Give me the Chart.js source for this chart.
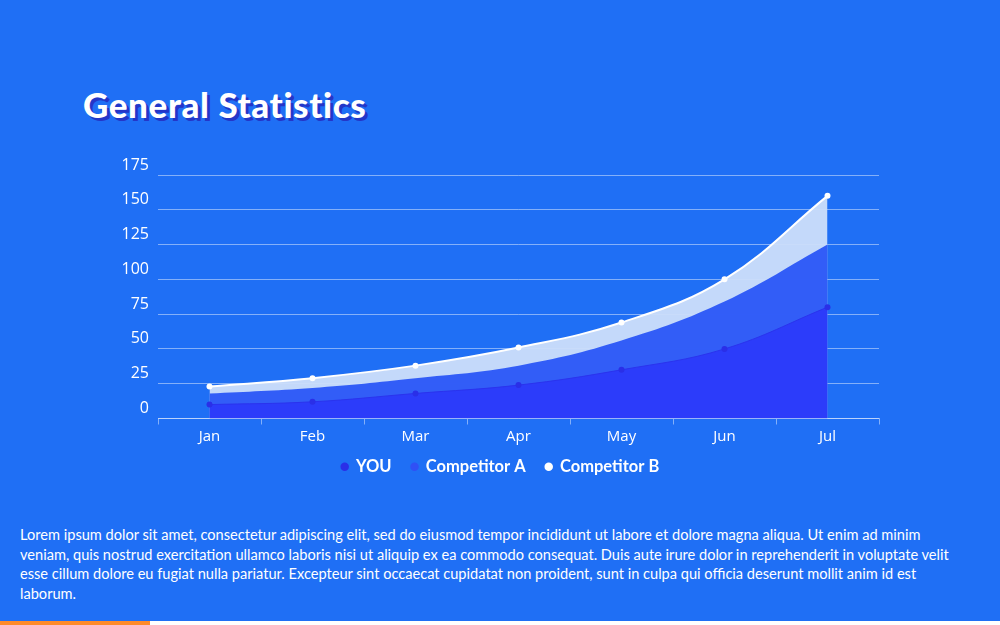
<!DOCTYPE html>
<html>
<head>
<meta charset="utf-8">
<script src="https://cdn.jsdelivr.net/npm/chart.js@4/dist/chart.umd.min.js"></script>
<style>
  html, body { margin: 0; padding: 0; }
  body { width: 1000px; height: 625px; background: #fff; position: relative; overflow: hidden; }
  .panel { position: absolute; left: 0; top: 0; width: 1000px; height: 621px; background: #1f6ff5; }
  .orange { position: absolute; left: 0; top: 621px; width: 150px; height: 4px; background: #ff8a2a; }
  h1 {
    position: absolute; left: 83px; top: 83px; margin: 0;
    font-family: "Lato", sans-serif; font-weight: 900; font-size: 35px; color: #fff;
    text-shadow: 3px 3px 0 #2436c8; letter-spacing: 0.6px;
  }
  .wrap { position: absolute; left: 0; top: 140px; width: 1000px; height: 355px; }
  p {
    position: absolute; left: 20px; top: 525px; margin: 0; white-space: nowrap;
    font-family: "Lato", sans-serif; font-size: 14.6px; line-height: 19.7px; color: #fff;
  }
</style>
</head>
<body>
<div class="panel"></div>
<div class="orange"></div>
<h1>General Statistics</h1>
<div class="wrap"><canvas id="grafico"></canvas></div>
<p>Lorem ipsum dolor sit amet, consectetur adipiscing elit, sed do eiusmod tempor incididunt ut labore et dolore magna aliqua. Ut enim ad minim<br>veniam, quis nostrud exercitation ullamco laboris nisi ut aliquip ex ea commodo consequat. Duis aute irure dolor in reprehenderit in voluptate velit<br>esse cillum dolore eu fugiat nulla pariatur. Excepteur sint occaecat cupidatat non proident, sunt in culpa qui officia deserunt mollit anim id est<br>laborum.</p>
<script>
const meses = ['Jan', 'Feb', 'Mar', 'Apr', 'May', 'Jun', 'Jul'];
const you = [10, 12, 18, 24, 35, 50, 80];
const competidorA = [18, 22, 29, 38, 56, 84, 125];
const competidorB = [23, 29, 38, 51, 69, 100, 160];
const ticksY = [0, 25, 50, 75, 100, 125, 150, 175];

const ctx = document.getElementById('grafico').getContext('2d');
const lineaGrid = 'rgba(255, 255, 255, 0.45)';

// mueve la leyenda: mas cerca de los meses y centrada en la pagina
const moverLeyenda = {
    id: 'moverLeyenda',
    beforeDraw: (chart) => {
        chart.legend.top -= 10;
        chart.legend.bottom -= 10;
        chart.legend.left += 11;
        chart.legend.right += 11;
    }
};

const myChart = new Chart(ctx, {
    type: 'line',
    data: {
        labels: meses,
        datasets: [{
            label: 'YOU',
            data: you,
            fill: 'origin',
            backgroundColor: 'rgba(44, 58, 250, 0.95)',
            borderColor: '#2a33ee',
            borderWidth: 1,
            pointRadius: 3,
            pointBackgroundColor: '#2a2fe8',
            pointBorderWidth: 0,
            tension: 0.4
        }, {
            label: 'Competitor A',
            data: competidorA,
            fill: 'origin',
            backgroundColor: 'rgba(42, 86, 248, 0.95)',
            borderColor: '#2a56f8',
            borderWidth: 0,
            pointRadius: 0,
            pointBackgroundColor: '#3050f5',
            tension: 0.4
        }, {
            label: 'Competitor B',
            data: competidorB,
            fill: 'origin',
            backgroundColor: 'rgba(205, 222, 250, 0.95)',
            borderColor: '#ffffff',
            borderWidth: 2,
            pointRadius: 3,
            pointBackgroundColor: '#ffffff',
            pointBorderWidth: 0,
            tension: 0.4
        }]
    },
    options: {
        responsive: true,
        maintainAspectRatio: false,
        animation: false,
        layout: { padding: { left: 100, right: 121, top: 35, bottom: 0 } },
        plugins: {
            tooltip: { enabled: false },
            legend: {
                position: 'bottom',
                labels: {
                    usePointStyle: true,
                    boxWidth: 6,
                    boxHeight: 6,
                    padding: 20,
                    color: '#fff',
                    font: { family: 'Lato', weight: 'bold', size: 16.5 },
                    generateLabels: (chart) => chart.data.datasets.map((d, i) => ({
                        text: d.label,
                        fillStyle: i == 0 ? '#2a2fe8' : (i == 1 ? '#3050f5' : '#ffffff'),
                        strokeStyle: 'transparent',
                        lineWidth: 0,
                        pointStyle: 'circle',
                        fontColor: '#fff',
                        datasetIndex: i
                    }))
                }
            }
        },
        scales: {
            x: {
                offset: true,
                border: { color: lineaGrid },
                grid: { offset: true, drawOnChartArea: false, tickLength: 6, color: lineaGrid },
                ticks: { color: '#fff', padding: 3, font: { family: 'Open Sans', size: 15 } }
            },
            y: {
                min: 0,
                max: 175,
                z: 1,
                afterFit: (scale) => { scale.width = 58; },
                afterBuildTicks: (scale) => { scale.ticks = ticksY.map(v => ({ value: v })); },
                border: { display: false },
                grid: { drawTicks: false, color: lineaGrid },
                ticks: { color: '#fff', padding: 9, labelOffset: -10, font: { family: 'Open Sans', size: 16 } }
            }
        }
    },
    plugins: [moverLeyenda]
});
</script>
</body>
</html>
